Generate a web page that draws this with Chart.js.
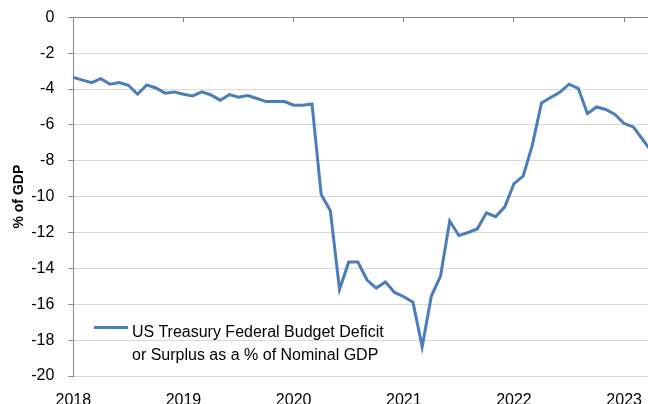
<!DOCTYPE html>
<html>
<head>
<meta charset="utf-8">
<script src="https://cdn.jsdelivr.net/npm/chart.js@4.4.0/dist/chart.umd.min.js"></script>
<style>
  html, body { margin: 0; padding: 0; background: #fff; overflow: hidden; }
  #wrap { position: relative; width: 648px; height: 404px; overflow: hidden; }
  #chart { position: absolute; left: 0; top: 0; }
  #legend { position: absolute; left: 94px; top: 320px; display: flex; align-items: flex-start;
            font: 16px "Liberation Sans", Arial, sans-serif; color: #000; }
  #legend .swatch { width: 34px; height: 3px; margin-top: 6px; margin-right: 4px; }
  #legend .text { width: 262px; line-height: 23px; }
</style>
</head>
<body>
<div id="wrap">
  <canvas id="chart" width="648" height="420"></canvas>
  <div id="legend"></div>
</div>
<script>
// tick labels on the time axis (one per January)
let years = ['2018', '2019', '2020', '2021', '2022', '2023'];
// monthly values, starting Jan 2018 (% of nominal GDP)
let deficit = [
  -3.35, -3.50, -3.64, -3.42, -3.73, -3.64, -3.79, -4.29, -3.77, -3.94, -4.23, -4.16,
  -4.29, -4.38, -4.16, -4.33, -4.62, -4.31, -4.46, -4.36, -4.53, -4.70, -4.70, -4.70,
  -4.90, -4.90, -4.83, -9.88, -10.79, -15.17, -13.65, -13.65, -14.65, -15.10, -14.76, -15.34,
  -15.58, -15.88, -18.37, -15.54, -14.43, -11.36, -12.17, -12.00, -11.80, -10.90, -11.12, -10.57,
  -9.27, -8.86, -7.13, -4.77, -4.47, -4.18, -3.73, -3.96, -5.37, -5.00, -5.14, -5.42,
  -5.92, -6.11, -6.80, -7.50
];
let seriesName = 'US Treasury Federal Budget Deficit or Surplus as a % of Nominal GDP';
let yTicks = [0, -2, -4, -6, -8, -10, -12, -14, -16, -18, -20];

const lineColor = '#4a7ebb';
const axisColor = '#868686';
const gridColor = '#d9d9d9';
const font16 = { family: 'Liberation Sans', size: 16 };
const xMax = 62.6; // plot runs off the right edge of the picture

const points = deficit.map((v, i) => ({ x: i, y: v }));
const yearTicks = years.map((y, i) => ({ value: i * 12 }));

// keep the plot area running right up to the canvas edges
function noPad(s) {
  s.paddingLeft = 0;
  s.paddingRight = 0;
  s.paddingTop = 0;
  s.paddingBottom = 0;
}

var ctx = document.getElementById('chart').getContext('2d');
var chart = new Chart(ctx, {
  type: 'line',
  data: {
    datasets: [{
      label: seriesName,
      data: points,
      borderColor: lineColor,
      backgroundColor: lineColor,
      borderWidth: 3,
      pointRadius: 0,
      tension: 0,
      xAxisID: 'x',
      yAxisID: 'y'
    }]
  },
  options: {
    responsive: false,
    animation: false,
    devicePixelRatio: 1,
    layout: { padding: { top: 17.3, left: 0, right: 0, bottom: 0 } },
    plugins: { legend: { display: false }, tooltip: { enabled: false } },
    scales: {
      // x axis line along the top (y = 0) with year tick marks pointing down
      x: {
        type: 'linear',
        position: 'top',
        min: 0,
        max: xMax,
        afterBuildTicks: s => { s.ticks = yearTicks.map(t => ({ value: t.value })); },
        afterFit: s => { s.height = 0; noPad(s); },
        ticks: { display: false },
        grid: { drawOnChartArea: false, drawTicks: true, tickLength: -5, color: axisColor },
        border: { display: true, color: axisColor, width: 1 }
      },
      // year labels below the plot (cut by the bottom edge, as in the picture)
      x2: {
        type: 'linear',
        position: 'bottom',
        min: 0,
        max: xMax,
        afterBuildTicks: s => { s.ticks = yearTicks.map(t => ({ value: t.value })); },
        afterFit: s => { s.height = 44; noPad(s); },
        ticks: {
          font: font16,
          color: '#000',
          padding: 15,
          maxRotation: 0,
          callback: v => years[Math.round(v / 12)]
        },
        grid: { display: false, drawTicks: false },
        border: { display: false }
      },
      y: {
        min: -20,
        max: 0,
        afterBuildTicks: s => { s.ticks = yTicks.map(v => ({ value: v })); },
        afterFit: s => { s.width = 73.3; noPad(s); },
        ticks: { font: font16, color: '#000', padding: 14 },
        grid: { color: gridColor, tickColor: axisColor, tickLength: 5 },
        border: { color: axisColor },
        title: {
          display: true,
          text: '% of GDP',
          font: { family: 'Liberation Sans', size: 14, weight: 'bold' },
          color: '#000',
          padding: { top: 11, bottom: 0 }
        }
      }
    }
  }
});

// legend box inside the plot, built from the dataset
const ds = chart.data.datasets[0];
const legend = document.getElementById('legend');
const sw = document.createElement('span');
sw.className = 'swatch';
sw.style.background = ds.borderColor;
const tx = document.createElement('span');
tx.className = 'text';
tx.textContent = ds.label;
legend.appendChild(sw);
legend.appendChild(tx);
</script>
</body>
</html>
